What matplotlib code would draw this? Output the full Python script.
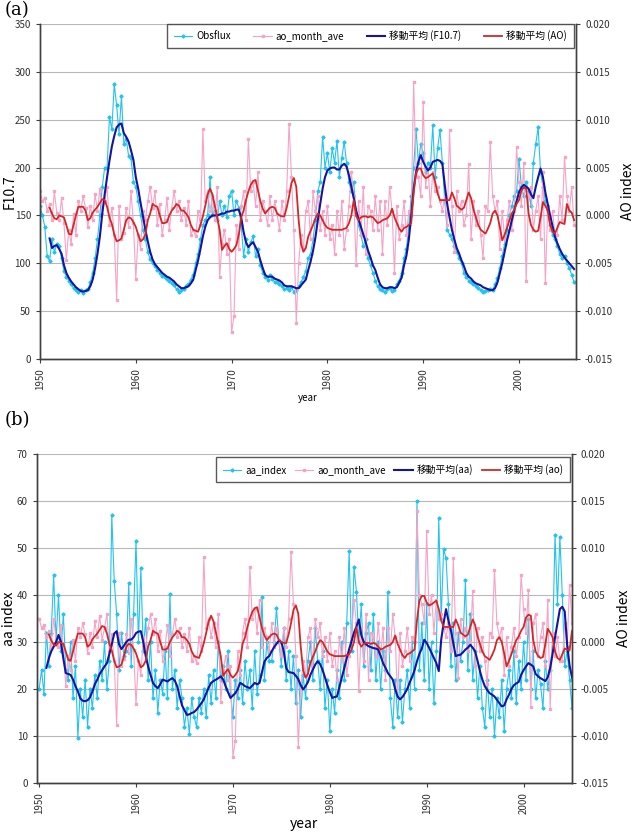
import numpy as np
import matplotlib
matplotlib.use("Agg")
import matplotlib.pyplot as plt
from matplotlib.ticker import FixedLocator, FuncFormatter

plt.rcParams['font.family'] = ['Noto Sans CJK JP', 'DejaVu Sans']

# ---------------- data (quarterly readings) ----------------
RAW_START = 1950.0
F_MA_START = 1951.0
AO_MA_START = 1951.0
AA_MA_START = 1950.75
STEP = 0.25

f107_raw = [
    160, 150, 138, 108,  102, 125, 112, 120,  118, 105, 92, 86,  82, 78, 74, 72,
    70, 72, 69, 72,  73, 80, 90, 105,  125, 150, 180, 200,  200, 253, 240, 287,
    265, 235, 275, 225,  230, 212, 210, 185,  180, 165, 150, 135,  125, 112, 104, 100,
    97, 93, 90, 87,  86, 84, 82, 79,  77, 73, 70, 72,  73, 76, 78, 83,
    88, 100, 110, 125,  140, 145, 150, 190,  150, 155, 145, 165,  150, 160, 148, 170,
    176, 150, 165, 158,  140, 108, 125, 112,  122, 128, 108, 115,  98, 90, 86, 83,
    88, 84, 80, 80,  78, 76, 73, 74,  72, 75, 70, 72,  76, 80, 86, 92,
    105, 110, 125, 145,  175, 185, 232, 200,  215, 195, 220, 205,  228, 190, 210, 227,
    205, 185, 175, 185,  150, 140, 130, 118,  125, 105, 98, 90,  82, 76, 73, 72,
    70, 73, 74, 71,  72, 78, 82, 90,  105, 115, 140, 170,  200, 240, 205, 225,
    215, 195, 205, 200,  244, 190, 220, 239,  205, 165, 135, 130,  125, 118, 112, 105,
    100, 90, 86, 82,  80, 78, 76, 74,  72, 70, 71, 72,  73, 72, 78, 85,
    95, 108, 120, 135,  150, 160, 170, 175,  209, 180, 170, 185,  175, 160, 205, 225,
    242, 195, 180, 165,  150, 140, 130, 125,  118, 110, 105, 108,  100, 95, 88, 80,
]

f107_ma = [
    126, 116, 118, 119,  115, 110, 98, 90,  85, 81, 78, 75,  73, 71, 70.5, 71,
    72, 76, 83, 95,  110, 128, 152, 172,  190, 207, 222, 233,  242, 245, 246, 236,
    232, 227, 218, 208,  190, 178, 163, 149,  135, 123, 112, 104,  99, 96, 93, 90,
    88, 86, 85, 83,  81, 78, 76, 74,  74, 75, 76, 79,  83, 93, 103, 115,
    128, 138, 145, 148,  150, 150, 150, 151,  152, 152, 154, 154,  155, 155, 156, 156,
    148, 133, 122, 117,  120, 122, 117, 112,  103, 95, 88, 86,  86, 86, 84, 83,
    82, 80, 77, 76,  76, 76, 75, 74,  74, 77, 80, 83,  93, 102, 113, 127,
    145, 162, 178, 190,  197, 199, 200, 200,  198, 198, 202, 204,  201, 192, 180, 168,
    155, 146, 138, 130,  122, 113, 106, 98,  93, 85, 78, 75,  74, 74, 75, 75,
    74, 75, 80, 85,  98, 108, 125, 150,  178, 195, 206, 213,  206, 201, 197, 200,
    206, 207, 208, 207,  204, 182, 162, 148,  135, 125, 116, 110,  103, 97, 90, 86,
    84, 81, 79, 78,  77, 75, 74, 73,  72, 72, 74, 80,  90, 100, 112, 124,
    134, 145, 155, 165,  174, 179, 182, 180,  178, 172, 168, 180,  190, 199, 190, 174,
    162, 150, 139, 128,  121, 115, 110, 106,  103, 100, 97, 94,
]

# AO values in units of 1e-3
ao_raw_milli = [
    2.5, 1.5, 1.8, 0.5,  1.2, -0.5, 2.5, 0.3,  -0.5, 1.8, -0.8, -4.7,  -1.5, -3.0, 0.2, -2.0,
    1.5, 0.5, 2.0, 0.8,  -1.2, 1.0, -0.5, 2.2,  0.5, 2.8, 0.2, 1.5,  3.0, -1.0, 0.8, -2.0,
    -8.8, 1.0, -2.5, -1.8,  0.8, -1.2, 2.5, -0.8,  -6.6, -2.0, -3.5, 0.5,  -0.5, 1.5, 3.0, 0.8,
    2.5, -1.0, 1.2, -2.0,  -0.5, 1.8, -1.5, 0.8,  2.5, 0.5, 1.5, -0.5,  0.8, -1.0, 1.5, -2.0,
    -1.5, -2.2, 0.5, -1.0,  9.0, 1.5, 2.5, 0.5,  2.0, -0.5, 3.0, -6.4,  -3.0, -1.5, -4.0, -2.5,
    -12.2, -10.5, -1.0, -3.5,  1.0, 2.5, -0.5, 8.0,  2.5, 3.5, 1.0, 4.5,  -0.5, 1.5, 0.5, -1.0,
    2.0, -0.5, 1.5, 0.2,  -1.5, 1.5, -0.5, 2.5,  9.6, 4.0, -1.5, -11.2,  -5.0, -2.0, -3.5, 0.5,
    1.5, -2.5, 2.5, 0.5,  2.0, -1.5, 0.5, -2.0,  1.0, -2.5, -1.0, -4.0,  0.5, -2.0, 1.5, -3.5,
    -1.5, 1.0, 4.5, 2.0,  -5.2, 1.5, -2.0, 3.0,  -4.0, 1.0, 0.5, -1.5,  2.0, -1.5, 1.5, -4.0,
    1.5, -1.0, 3.0, 0.5,  -6.0, 1.0, -2.5, -1.0,  1.5, -2.0, 0.5, 0.0,  13.9, 5.0, 4.0, 2.0,
    11.8, 3.0, 5.0, 1.0,  4.5, 2.5, 3.0, 1.5,  0.5, 2.0, -1.0, 8.9,  1.0, -3.8, 2.5, 0.5,
    1.5, -1.0, 0.0, 5.4,  -2.5, 1.5, -1.0, 0.5,  -2.0, -4.5, 1.0, 0.5,  7.7, 2.0, 0.5, 1.5,
    -3.5, 0.5, -2.5, -0.5,  1.5, -1.5, 0.5, 7.1,  3.5, 1.0, 5.5, -6.9,  2.0, 3.0, -1.5, 0.5,
    2.0, -2.5, 4.5, -7.1,  1.0, -1.5, 0.5, -2.0,  -2.0, 2.0, -0.5, 6.1,  2.0, 0.5, 3.0, -1.0,
]

ao_ma_milli = [
    0.8, 0.2, -0.3, -0.4,  0.0, -0.1, -0.2, -1.0,  -1.9, -2.0, -1.0, 0.0,  0.9, 0.9, 0.9, 0.5,
    -0.5, -0.3, 0.3, 0.6,  0.9, 1.3, 1.7, 1.6,  0.9, -0.2, -0.9, -2.0,  -2.7, -2.6, -2.4, -1.5,
    -0.5, -0.2, -0.3, -0.7,  -1.2, -2.0, -2.7, -2.5,  -2.0, -0.5, 0.2, 1.2,  1.0, 0.9, 0.0, -0.8,
    -0.8, -0.7, 0.0, 0.5,  0.8, 1.2, 1.0, 0.5,  0.5, 0.2, -0.2, -1.0,  -1.5, -1.6, -1.7, -1.0,
    -0.1, 1.0, 2.2, 2.8,  2.2, 1.0, -0.2, -1.5,  -3.6, -3.2, -2.9, -3.5,  -3.8, -3.5, -3.1, -2.0,
    -0.2, 0.5, 1.6, 2.5,  3.2, 3.6, 3.7, 2.6,  1.5, 0.7, 0.2, 0.5,  0.8, 0.9, 0.8, 0.2,
    0.0, -0.1, -0.1, 0.8,  2.0, 3.4, 3.9, 3.0,  -0.5, -3.0, -3.8, -3.4,  -2.2, -1.6, -1.0, -0.3,
    0.2, 0.0, -0.5, -1.0,  -1.3, -1.4, -1.5, -1.5,  -1.5, -1.5, -1.5, -1.4,  -1.3, -0.8, 0.0, 1.6,
    0.0, -0.5, -0.2, -0.1,  -0.1, -0.2, -0.1, -0.2,  -0.5, -0.8, -0.7, -0.5,  -0.4, -0.3, 0.0, 0.7,
    -0.2, -0.8, -1.4, -1.7,  -1.3, -1.2, -1.0, -0.8,  2.3, 4.4, 4.9, 4.9,  4.2, 3.9, 4.0, 4.2,
    4.4, 3.5, 2.3, 1.6,  1.6, 1.6, 1.6, 1.6,  2.4, 1.8, 1.0, 0.8,  0.6, 0.8, 1.6, 2.4,
    1.8, 0.6, -0.2, -1.0,  -1.5, -1.7, -1.9, -1.4,  -0.8, 0.2, 0.5, 0.0,  -1.2, -2.6, -2.0, -1.3,
    -0.5, 0.2, 0.6, 1.2,  1.6, 2.6, 2.9, 2.8,  0.2, -1.0, -1.5, -1.7,  -1.6, -0.2, 1.4, 1.0,
    0.5, -1.0, -1.7, -1.9,  -1.3, -0.7, -0.8, -0.9,  1.2, 0.5, 0.3, -0.5,
]

aa_raw = [
    20, 24, 19, 32,  25, 32, 44.3, 30,  40, 28, 36, 24,  22, 30, 18, 25,
    9.6, 20, 14, 22,  12, 20, 16, 23,  18, 26, 22, 30,  20, 26, 57, 43,
    36, 24, 32, 27,  28, 42.5, 25, 36,  51.4, 30, 45.8, 28,  35, 22, 30, 18,
    24, 15, 22, 19,  28, 18, 40.3, 20,  24, 16, 22, 18,  12, 16, 10.5, 18,
    14, 12, 18, 15,  20, 14, 23, 17,  24, 18, 30, 22,  25, 20, 28, 19,
    14, 22, 18, 24,  17, 26, 20, 24,  16, 28, 19, 23,  39.6, 22, 30, 26,
    26, 30, 37.2, 30,  25, 33, 22, 28,  20, 27, 17, 24,  14, 23, 18, 26,
    30, 22, 33, 26,  20, 28, 16, 22,  11, 20, 15, 24,  18, 30, 22, 34,
    49.4, 28, 46, 40.7,  30, 38, 25, 32,  34, 24, 36, 22,  30, 20, 28, 24,
    40.6, 18, 12, 22,  14, 22, 13, 20,  24, 16, 30, 20,  60, 24, 34, 22,
    38, 20, 30, 17,  28, 56.3, 35, 49.7,  47.8, 38, 25, 34,  22, 32, 26, 30,
    43.2, 24, 36, 22,  28, 18, 25, 16,  12, 22, 14, 20,  10, 18, 14, 22,
    11, 20, 24, 18,  28, 17, 26, 20,  30, 22, 35, 20,  28, 18, 24, 21,
    16, 26, 20, 24,  30, 52.8, 38, 52.3,  40, 25, 28, 22,  16, 30, 18, 24,
]

aa_ma = [
    24.5,
    26.5, 28.0, 29.0, 30.0,  31.5, 30.0, 26.5, 23.4,  23.2, 23.0, 22.0, 20.6,  19.5, 18.0, 17.5, 17.4,
    17.6, 18.2, 19.5, 21.0,  22.0, 23.2, 24.0, 24.8,  25.5, 27.5, 29.5, 31.8,  32.3, 29.5, 28.5, 29.2,
    30.0, 30.5, 30.5, 31.0,  31.9, 32.2, 32.3, 30.0,  27.0, 24.8, 23.0, 21.3,  20.6, 20.2, 21.0, 22.0,
    21.8, 21.6, 22.0, 22.3,  21.8, 20.6, 18.5, 16.5,  15.5, 14.5, 14.6, 14.9,  15.1, 15.6, 16.3, 17.0,
    17.8, 19.1, 20.3, 21.3,  21.7, 22.0, 22.3, 22.7,  22.0, 20.6, 19.3, 18.1,  18.6, 19.1, 20.0, 21.3,
    21.0, 20.6, 20.4, 20.2,  20.7, 21.3, 21.0, 21.3,  23.5, 25.8, 26.6, 27.0,  28.0, 28.9, 29.6, 30.3,
    30.0, 28.0, 24.5, 23.6,  23.5, 23.4, 22.8, 22.1,  20.8, 19.9, 20.6, 21.5,  23.0, 24.1, 25.2, 25.9,
    25.3, 24.1, 22.5, 20.8,  19.4, 18.1, 18.3, 18.4,  20.5, 22.5, 24.5, 26.5,  28.5, 30.2, 32.0, 33.3,
    34.8, 31.5, 30.0, 29.5,  29.1, 28.9, 28.7, 28.6,  28.4, 27.0, 25.5, 24.5,  23.4, 22.7, 22.0, 20.0,
    18.4, 17.8, 18.3, 19.1,  20.0, 21.4, 22.6, 24.0,  25.9, 27.5, 28.6, 30.5,  29.8, 28.8, 27.7, 26.6,
    25.5, 23.8, 30.5, 34.0,  37.0, 34.5, 32.5, 29.8,  27.0, 27.2, 27.3, 27.8,  28.4, 28.8, 29.4, 28.8,
    28.0, 26.0, 23.8, 22.0,  20.6, 19.8, 19.1, 18.8,  18.4, 17.7, 17.0, 16.3,  16.5, 17.8, 18.8, 20.0,
    20.8, 21.2, 21.5, 23.0,  24.0, 24.8, 25.5, 25.2,  24.8, 23.2, 22.7, 22.3,  22.0, 21.7, 22.5, 24.5,
    27.5, 31.0, 34.0, 37.0,  37.5, 36.5, 29.5, 25.0,  22.5, 21.5, 21.0, 21.0,
]

x_ticks = [1950, 1960, 1970, 1980, 1990, 2000]
ao_ticks = [-0.015, -0.010, -0.005, 0.0, 0.005, 0.010, 0.015, 0.020]

# ---------------- style ----------------
C_RAW = '#22c3ee'
C_AO = '#f6a3c6'
C_MA = '#1414a0'
C_AOMA = '#d42626'
SPINE = '#404040'
GRID = '#b8b8b8'


def times(start, n):
    return start + np.arange(n) * STEP


def build_panel(fig, rect, raw, ma, ma_start, labels, ylim, yticks, xlim,
                ylabel, xlabel_size, legend_box, ylabel_x):
    ax = fig.add_axes(rect)
    ax2 = ax.twinx()
    ax.set_xlim(*xlim)
    ax.set_ylim(*ylim)
    ax2.set_ylim(-0.015, 0.020)

    ao = np.array(ao_raw_milli) / 1000.0
    ao_ma = np.array(ao_ma_milli) / 1000.0

    l1, = ax.plot(times(RAW_START, len(raw)), raw, color=C_RAW, lw=0.8,
                  marker='D', ms=1.6, mec=C_RAW, mfc=C_RAW, zorder=2,
                  label=labels[0])
    l2, = ax.plot(times(RAW_START, len(ao)), ao, color=C_AO, lw=0.8,
                  marker='s', ms=1.8, mec=C_AO, mfc=C_AO, zorder=2.2,
                  transform=ax2.transData, label=labels[1])
    l3, = ax.plot(times(ma_start, len(ma)), ma, color=C_MA, lw=1.5,
                  zorder=3, label=labels[2])
    l4, = ax.plot(times(AO_MA_START, len(ao_ma)), ao_ma, color=C_AOMA, lw=1.3,
                  transform=ax2.transData, zorder=3.2, label=labels[3])
    ax.set_xlim(*xlim)
    ax.set_ylim(*ylim)
    ax2.set_ylim(-0.015, 0.020)

    ax.yaxis.set_major_locator(FixedLocator(yticks))
    ax.xaxis.set_major_locator(FixedLocator(x_ticks))
    ax.grid(axis='y', color=GRID, lw=0.8, zorder=0)
    ax.grid(axis='x', visible=False)
    ax.set_axisbelow(True)
    ax2.yaxis.set_major_locator(FixedLocator(ao_ticks))
    ax2.yaxis.set_major_formatter(FuncFormatter(lambda v, p: f"{v:.3f}"))

    for a in (ax, ax2):
        for s in ('left', 'bottom', 'right'):
            a.spines[s].set_color(SPINE)
            a.spines[s].set_linewidth(1.0)
        a.spines['top'].set_visible(False)
        a.tick_params(colors=SPINE, labelcolor='#303030', labelsize=7,
                      length=3, width=0.8)
    ax.tick_params(axis='x', labelrotation=90)
    ax.set_ylabel(ylabel, fontsize=10)
    ax.yaxis.set_label_coords(ylabel_x, 0.5)
    ax2.set_ylabel('AO index', fontsize=10, labelpad=6)
    ax.set_xlabel('year', fontsize=xlabel_size, labelpad=2)

    leg = ax.legend(handles=[l1, l2, l3, l4], loc='lower left',
                    bbox_to_anchor=legend_box, mode='expand', ncol=4,
                    borderaxespad=0, fontsize=7, frameon=True, fancybox=False,
                    handlelength=1.9, handletextpad=0.4, columnspacing=0.8,
                    borderpad=0.7)
    leg.get_frame().set_edgecolor('#303030')
    leg.get_frame().set_linewidth(1.0)
    leg.set_zorder(10)
    return ax, ax2


W, H = 635, 832
fig = plt.figure(figsize=(W / 100, H / 100), dpi=100)

# panel (a)
rect_a = [40 / W, 1 - 359 / H, 536 / W, 335 / H]
build_panel(fig, rect_a, f107_raw, f107_ma, F_MA_START,
            ['Obsflux', 'ao_month_ave', '移動平均 (F10.7)', '移動平均 (AO)'],
            (0, 350), [0, 50, 100, 150, 200, 250, 300, 350], (1950.0, 2005.95),
            'F10.7', 7, (0.237, 0.928, 0.759, 0.072), -0.043)

# panel (b)
rect_b = [36.7 / W, 1 - 783 / H, 535 / W, 329 / H]
build_panel(fig, rect_b, aa_raw, aa_ma, AA_MA_START,
            ['aa_index', 'ao_month_ave', '移動平均(aa)', '移動平均 (ao)'],
            (0, 70), [0, 10, 20, 30, 40, 50, 60, 70], (1949.75, 2004.97),
            'aa index', 10, (0.335, 0.915, 0.662, 0.085), -0.038)

fig.text(5 / W, 1 - 10 / H, '(a)', fontsize=13, family=['DejaVu Serif'],
         va='center', ha='left')
fig.text(5 / W, 1 - 420 / H, '(b)', fontsize=13, family=['DejaVu Serif'],
         va='center', ha='left')

fig.savefig('out.png', dpi=100)
